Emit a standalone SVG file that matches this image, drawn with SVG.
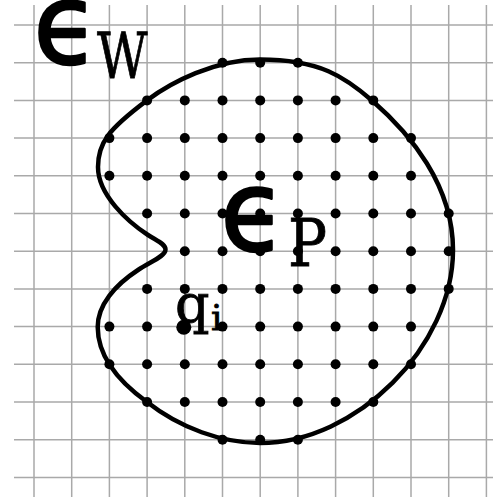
<svg xmlns="http://www.w3.org/2000/svg" width="493" height="497" viewBox="0 0 493 497">
<style>
.g{stroke:#a9a9a9;stroke-width:1.5;fill:none}
.shape{fill:none;stroke:#000;stroke-width:4.5;stroke-linejoin:round}
.d{fill:#000}
.eps{font-family:"DejaVu Sans",sans-serif;font-size:112px;fill:#000;stroke:#000;stroke-width:2.5;stroke-linejoin:round}
.ser{font-family:"DejaVu Serif",serif;fill:#000;stroke:#000;stroke-width:0.8}
</style>
<rect width="493" height="497" fill="#fff"/>
<g id="grid">
<path class="g" d="M34,5V497M71.7,5V497M109.4,5V497M147.1,5V497M184.8,5V497M222.5,5V497M260.2,5V497M297.9,5V497M335.6,5V497M373.3,5V497M411,5V497M448.7,5V497M486.4,5V497"/>
<path class="g" d="M14,25H493M14,62.7H493M14,100.4H493M14,138.1H493M14,175.8H493M14,213.5H493M14,251.2H493M14,288.9H493M14,326.6H493M14,364.3H493M14,402H493M14,439.7H493M14,477.4H493"/>
</g>
<g id="region">
<path class="shape" d="M165.5,249.5 C165.5,244 157.2,241 148,235 C128,222 98,195 98,167 C98,143.2 107.8,129.8 147,100.4 C171,82.4 215,59.5 260,59.5 C320,59.5 345,77 372.3,100.7 C410,133.5 453,185 453,250 C453,346.5 356.5,443 260,443 C222,443 180,428 147,402 C115,378.9 97.7,352.9 97.7,327 C97.7,305 115,285 138,270 C152,261 165.5,256 165.5,249.5 Z"/>
</g>
<g id="dots">
<circle class="d" cx="222.5" cy="62.7" r="5"/><circle class="d" cx="260.2" cy="62.7" r="5"/><circle class="d" cx="297.9" cy="62.7" r="5"/>
<circle class="d" cx="147.1" cy="100.4" r="5"/><circle class="d" cx="184.8" cy="100.4" r="5"/><circle class="d" cx="222.5" cy="100.4" r="5"/><circle class="d" cx="260.2" cy="100.4" r="5"/><circle class="d" cx="297.9" cy="100.4" r="5"/><circle class="d" cx="335.6" cy="100.4" r="5"/><circle class="d" cx="373.3" cy="100.4" r="5"/>
<circle class="d" cx="109.4" cy="138.1" r="5"/><circle class="d" cx="147.1" cy="138.1" r="5"/><circle class="d" cx="184.8" cy="138.1" r="5"/><circle class="d" cx="222.5" cy="138.1" r="5"/><circle class="d" cx="260.2" cy="138.1" r="5"/><circle class="d" cx="297.9" cy="138.1" r="5"/><circle class="d" cx="335.6" cy="138.1" r="5"/><circle class="d" cx="373.3" cy="138.1" r="5"/><circle class="d" cx="411" cy="138.1" r="5"/>
<circle class="d" cx="109.4" cy="175.8" r="5"/><circle class="d" cx="147.1" cy="175.8" r="5"/><circle class="d" cx="184.8" cy="175.8" r="5"/><circle class="d" cx="222.5" cy="175.8" r="5"/><circle class="d" cx="260.2" cy="175.8" r="5"/><circle class="d" cx="297.9" cy="175.8" r="5"/><circle class="d" cx="335.6" cy="175.8" r="5"/><circle class="d" cx="373.3" cy="175.8" r="5"/><circle class="d" cx="411" cy="175.8" r="5"/>
<circle class="d" cx="147.1" cy="213.5" r="5"/><circle class="d" cx="184.8" cy="213.5" r="5"/><circle class="d" cx="222.5" cy="213.5" r="5"/><circle class="d" cx="260.2" cy="213.5" r="5"/><circle class="d" cx="297.9" cy="213.5" r="5"/><circle class="d" cx="335.6" cy="213.5" r="5"/><circle class="d" cx="373.3" cy="213.5" r="5"/><circle class="d" cx="411" cy="213.5" r="5"/><circle class="d" cx="448.7" cy="213.5" r="5"/>
<circle class="d" cx="184.8" cy="251.2" r="5"/><circle class="d" cx="222.5" cy="251.2" r="5"/><circle class="d" cx="260.2" cy="251.2" r="5"/><circle class="d" cx="297.9" cy="251.2" r="5"/><circle class="d" cx="335.6" cy="251.2" r="5"/><circle class="d" cx="373.3" cy="251.2" r="5"/><circle class="d" cx="411" cy="251.2" r="5"/><circle class="d" cx="448.7" cy="251.2" r="5"/>
<circle class="d" cx="147.1" cy="288.9" r="5"/><circle class="d" cx="184.8" cy="288.9" r="5"/><circle class="d" cx="222.5" cy="288.9" r="5"/><circle class="d" cx="260.2" cy="288.9" r="5"/><circle class="d" cx="297.9" cy="288.9" r="5"/><circle class="d" cx="335.6" cy="288.9" r="5"/><circle class="d" cx="373.3" cy="288.9" r="5"/><circle class="d" cx="411" cy="288.9" r="5"/><circle class="d" cx="448.7" cy="288.9" r="5"/>
<circle class="d" cx="109.4" cy="326.6" r="5"/><circle class="d" cx="147.1" cy="326.6" r="5"/><circle class="d" cx="183.8" cy="327.3" r="7.5"/><circle class="d" cx="222.5" cy="326.6" r="5"/><circle class="d" cx="260.2" cy="326.6" r="5"/><circle class="d" cx="297.9" cy="326.6" r="5"/><circle class="d" cx="335.6" cy="326.6" r="5"/><circle class="d" cx="373.3" cy="326.6" r="5"/><circle class="d" cx="411" cy="326.6" r="5"/>
<circle class="d" cx="109.4" cy="364.3" r="5"/><circle class="d" cx="147.1" cy="364.3" r="5"/><circle class="d" cx="184.8" cy="364.3" r="5"/><circle class="d" cx="222.5" cy="364.3" r="5"/><circle class="d" cx="260.2" cy="364.3" r="5"/><circle class="d" cx="297.9" cy="364.3" r="5"/><circle class="d" cx="335.6" cy="364.3" r="5"/><circle class="d" cx="373.3" cy="364.3" r="5"/><circle class="d" cx="411" cy="364.3" r="5"/>
<circle class="d" cx="147.1" cy="402" r="5"/><circle class="d" cx="184.8" cy="402" r="5"/><circle class="d" cx="222.5" cy="402" r="5"/><circle class="d" cx="260.2" cy="402" r="5"/><circle class="d" cx="297.9" cy="402" r="5"/><circle class="d" cx="335.6" cy="402" r="5"/><circle class="d" cx="373.3" cy="402" r="5"/>
<circle class="d" cx="222.5" cy="439.7" r="5"/><circle class="d" cx="260.2" cy="439.7" r="5"/><circle class="d" cx="297.9" cy="439.7" r="5"/>
</g>
<g id="label-eW">
<text class="eps" transform="translate(33.5,63) scale(0.95,1)">ϵ</text>
<text class="ser" font-size="63" transform="translate(97,78) scale(0.78,1)">W</text>
</g>
<g id="label-eP">
<text class="eps" transform="translate(220.5,250) scale(0.95,1)">ϵ</text>
<text class="ser" font-size="66" transform="translate(288,266) scale(0.88,1)">P</text>
</g>
<g id="label-qi">
<text class="ser" font-size="54" x="175" y="323">q</text>
<text class="ser" font-size="36" x="211" y="330">i</text>
</g>
</svg>
